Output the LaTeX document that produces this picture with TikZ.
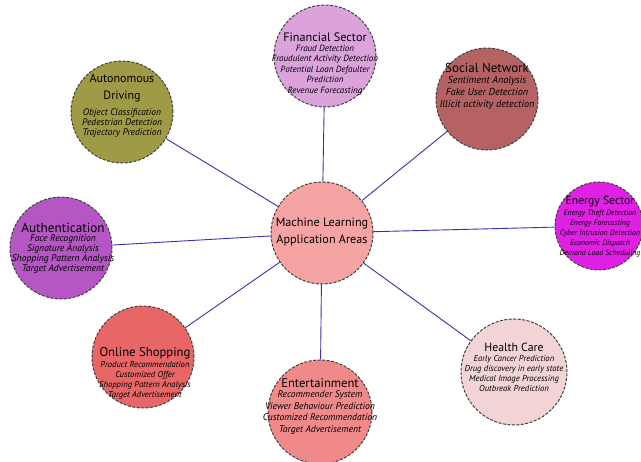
\documentclass[tikz,border=0pt]{standalone}
\usepackage{fontspec}
\setmainfont{PT Sans}
\usetikzlibrary{positioning}
\definecolor{cCore}{HTML}{F5A3A3}
\definecolor{cFin}{HTML}{DCA2DC}
\definecolor{cSoc}{HTML}{B66262}
\definecolor{cEne}{HTML}{E020E4}
\definecolor{cAuto}{HTML}{9E9A46}
\definecolor{cAuth}{HTML}{B556C4}
\definecolor{cShop}{HTML}{E86666}
\definecolor{cEnt}{HTML}{F08A8A}
\definecolor{cHea}{HTML}{F2D4D4}
\definecolor{cLink}{HTML}{3434B0}

\begin{document}
\begin{tikzpicture}[x=1pt,y=-1pt,
  area/.style={draw=black!75,dash pattern=on 3pt off 1.5pt,line width=1pt,circle,inner sep=0pt,minimum size=#1},
  area/.default=102pt,
  title/.style={align=center,inner sep=0pt,font=\fontsize{12.5}{14}\selectfont},
  items/.style={align=center,inner sep=0pt,font=\fontsize{#1}{10}\selectfont\itshape},
  items/.default=9,
  link/.style={draw=cLink,line width=0.9pt}]
\useasboundingbox (0,0) rectangle (641,462);
% circles
\node[area,fill=cCore] (ml) at (322,233) {};
\node[area,fill=cFin] (fin) at (325,56) {};
\node[area,fill=cSoc] (soc) at (487,99) {};
\node[area=88pt,fill=cEne] (ene) at (599,226) {};
\node[area,fill=cAuto] (aut) at (122,112) {};
\node[area,fill=cAuth] (ath) at (61,248) {};
\node[area,fill=cShop] (shp) at (143,357) {};
\node[area=104pt,fill=cEnt] (ent) at (320,412) {};
\node[area=106pt,fill=cHea] (hea) at (514,372) {};
% connectors
\draw[link] (ml) -- (fin);
\draw[link] (ml) -- (soc);
\draw[link] (ml) -- (ene);
\draw[link] (ml) -- (aut);
\draw[link] (ml) -- (ath);
\draw[link] (ml) -- (shp);
\draw[link] (ml) -- (ent);
\draw[link] (ml) -- (hea);
% texts
\node[title,font=\fontsize{12.2}{17}\selectfont] (ml-t) at (322,232) {Machine Learning\\Application Areas};
\node[title,font=\fontsize{12.2}{14}\selectfont] (fin-t) at (325,37) {Financial Sector};
\node[items,font=\fontsize{9}{10.5}\selectfont\itshape,below=3pt of fin-t] (fin-i) {Fraud Detection\\Fraudulent Activity Detection\\Potential Loan Defaulter\\Prediction\\Revenue Forecasting};
\node[title,font=\fontsize{13}{14}\selectfont] (soc-t) at (487,68) {Social Network};
\node[items,font=\fontsize{10.2}{12}\selectfont\itshape,below=3pt of soc-t] (soc-i) {Sentiment Analysis\\Fake User Detection\\Illicit activity detection};
\node[title,font=\fontsize{11.7}{14}\selectfont] (ene-t) at (600,202) {Energy Sector};
\node[items=7.8,below=2pt of ene-t] (ene-i) {Energy Theft Detection\\Energy Forecasting\\Cyber Intrusion Detection\\Economic Dispatch\\Demand Load Scheduling};
\node[title,font=\fontsize{12}{17}\selectfont] (aut-t) at (122,88) {Autonomous\\Driving};
\node[items=9.5,below=6pt of aut-t] (aut-i) {Object Classification\\Pedestrian Detection\\Trajectory Prediction};
\node[title,font=\fontsize{13.2}{14}\selectfont] (ath-t) at (63,228) {Authentication};
\node[items=9.6,below=2pt of ath-t] (ath-i) {Face Recognition\\Signature Analysis\\Shopping Pattern Analysis\\Target Advertisement};
\node[title,font=\fontsize{12.7}{14}\selectfont] (shp-t) at (145,353) {Online Shopping};
\node[items=8.6,below=2pt of shp-t] (shp-i) {Product Recommendation\\Customized Offer\\Shopping Pattern Analysis\\Target Advertisement};
\node[title,font=\fontsize{12.6}{14}\selectfont] (ent-t) at (320,383) {Entertainment};
\node[items,font=\fontsize{9.6}{11.5}\selectfont\itshape,below=3pt of ent-t] (ent-i) {Recommender System\\Viewer Behaviour Prediction\\Customized Recommendation\\Target Advertisement};
\node[title,font=\fontsize{11.8}{14}\selectfont] (hea-t) at (514,347) {Health Care};
\node[items=8.6,below=4pt of hea-t] (hea-i) {Early Cancer Prediction\\Drug discovery in early state\\Medical Image Processing\\Outbreak Prediction};
\end{tikzpicture}
\end{document}
